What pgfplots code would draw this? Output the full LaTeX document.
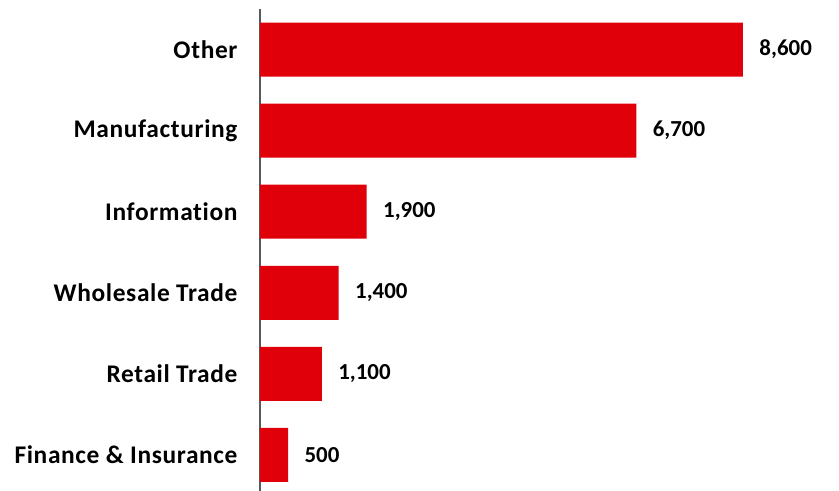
\documentclass[border=0pt]{standalone}
\usepackage{fontspec}
\setmainfont{Carlito}
\newfontfamily\lbl[LetterSpace=2.5, Ligatures={NoCommon}]{Carlito}
\usepackage{pgfplots}
\pgfplotsset{compat=1.18}
\definecolor{barred}{HTML}{DF0009}
\definecolor{axgray}{HTML}{595959}
\begin{document}
\begin{tikzpicture}
\begin{axis}[
  scale only axis,
  width=579bp, height=482bp,
  xbar, bar width=54bp,
  xmin=0, xmax=10310,
  ymin=-0.444, ymax=5.5,
  axis x line=none,
  axis y line*=left,
  y axis line style={axgray, line width=1.4bp},
  ytick={0,1,2,3,4,5},
  yticklabels={Finance \& Insurance, Retail Trade, Wholesale Trade, Information, Manufacturing, Other\hspace{0.3em}},
  major tick length=0pt,
  yticklabel style={font=\lbl\fontsize{25.5}{30}\selectfont\bfseries, xshift=-19bp},
  point meta=x,
  /pgf/number format/assume math mode=true,
  nodes near coords={\pgfmathprintnumber[fixed, 1000 sep={,}]{\pgfplotspointmeta}},
  nodes near coords style={font=\fontsize{23}{28}\selectfont\bfseries, anchor=west, xshift=13bp},
]
\addplot[fill=barred, draw=none] coordinates {
  (500,0) (1100,1) (1400,2) (1900,3) (6700,4) (8600,5)
};
\end{axis}
\pgfresetboundingbox
\path ([xshift=-260bp, yshift=9bp]current axis.north west) rectangle (current axis.south east);
\end{tikzpicture}
\end{document}
